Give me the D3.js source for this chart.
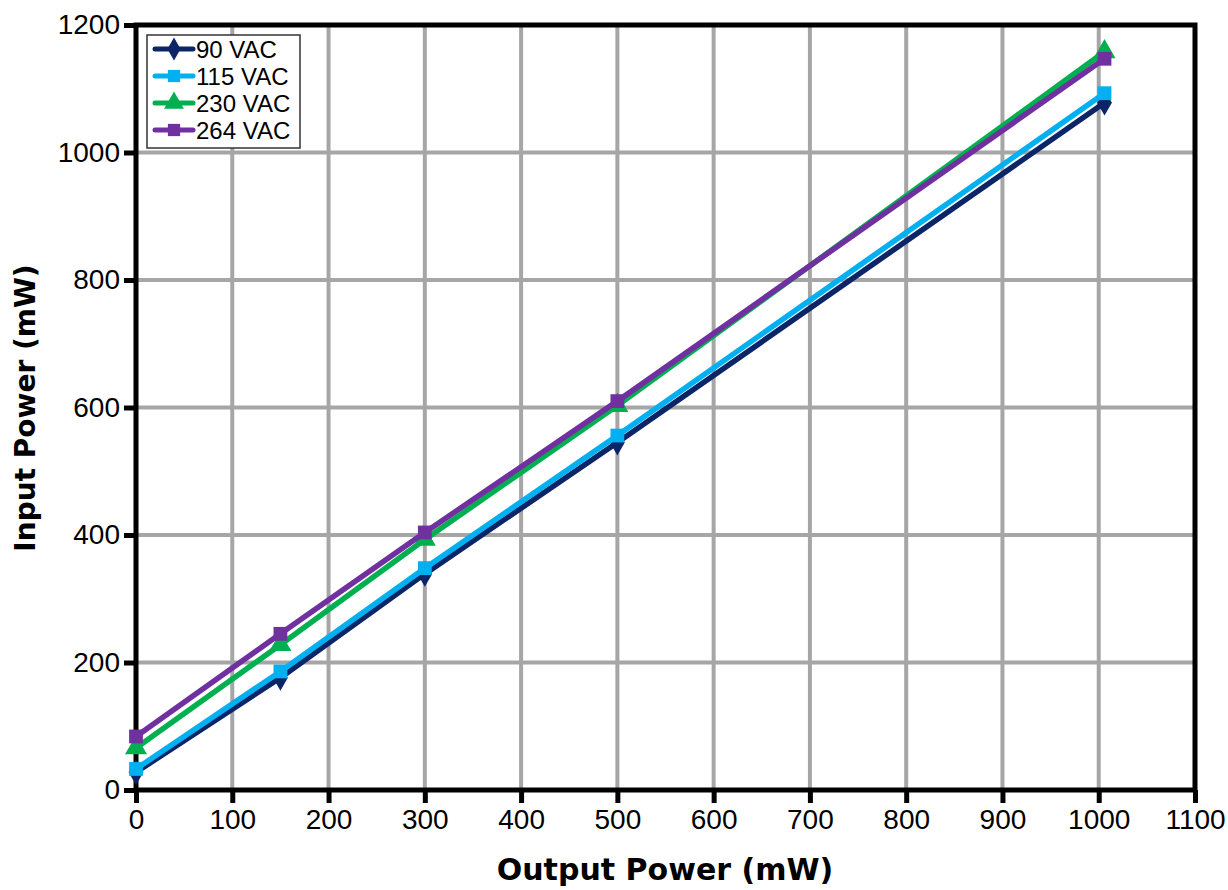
<!DOCTYPE html>
<html><head><meta charset="utf-8">
<script src="https://cdn.jsdelivr.net/npm/d3@7"></script>
<style>body{margin:0;background:#fff}svg{display:block}</style>
</head><body><svg id="c" width="1228" height="890"></svg>
<script>
const xValues = [0, 150, 300, 500, 1006];
const seriesNames = ["90 VAC", "115 VAC", "230 VAC", "264 VAC"];
const v90 = [28, 176, 339, 545, 1078];
const v115 = [33, 186, 348, 556, 1093];
const v230 = [66, 228, 393, 603, 1158];
const v264 = [84, 245, 404, 610, 1147];
const colors = ["#0c2566", "#00b0f0", "#00b050", "#7030a0"];
const symbols = [d3.symbolDiamond, d3.symbolSquare, d3.symbolTriangle, d3.symbolSquare];
const xTicks = [0,100,200,300,400,500,600,700,800,900,1000,1100];
const yTicks = [0,200,400,600,800,1000,1200];
const allSeries = [v90, v115, v230, v264];

const svg = d3.select("#c");
const L = 136, R = 1195, T = 25, B = 790;
const x = d3.scaleLinear().domain([0,1100]).range([L,R]);
const y = d3.scaleLinear().domain([0,1200]).range([B,T]);
const font = "'Liberation Sans', Arial, sans-serif";

// grid
svg.append("g").selectAll("line").data(xTicks.slice(1,-1)).join("line")
  .attr("x1", d=>x(d)).attr("x2", d=>x(d)).attr("y1", T).attr("y2", B)
  .attr("stroke", "#a6a6a6").attr("stroke-width", 4);
svg.append("g").selectAll("line").data(yTicks.slice(1,-1)).join("line")
  .attr("y1", d=>y(d)).attr("y2", d=>y(d)).attr("x1", L).attr("x2", R)
  .attr("stroke", "#a6a6a6").attr("stroke-width", 4);

// axes
const xAxis = svg.append("g").attr("transform", `translate(0,${B})`)
  .call(d3.axisBottom(x).tickValues(xTicks).tickSize(13).tickPadding(6).tickFormat(d3.format("d")));
const yAxis = svg.append("g").attr("transform", `translate(${L},0)`)
  .call(d3.axisLeft(y).tickValues(yTicks).tickSize(12).tickPadding(4).tickFormat(d3.format("d")));
[xAxis, yAxis].forEach(a => {
  a.select(".domain").remove();
  a.selectAll(".tick line").attr("stroke", "#000").attr("stroke-width", 5);
  a.selectAll(".tick text").attr("font-family", font).attr("font-size", 28).attr("fill", "#000");
});
// frame
svg.append("rect").attr("x", L).attr("y", T).attr("width", R-L).attr("height", B-T)
  .attr("fill", "none").attr("stroke", "#000").attr("stroke-width", 5);

// series
const line = d3.line().x((d,i)=>x(xValues[i])).y(d=>y(d));
allSeries.forEach((s, k) => {
  svg.append("path").datum(s).attr("d", line).attr("fill", "none")
    .attr("stroke", colors[k]).attr("stroke-width", 5.5).attr("stroke-linejoin", "round");
  svg.append("g").selectAll("path").data(s).join("path")
    .attr("transform", (d,i)=>`translate(${x(xValues[i])},${y(d)})`)
    .attr("d", d3.symbol().type(symbols[k]).size(k===2 ? 210 : 190))
    .attr("fill", colors[k]);
});

// legend
const lg = svg.append("g");
lg.append("rect").attr("x", 147).attr("y", 35).attr("width", 153).attr("height", 113)
  .attr("fill", "#fff").attr("stroke", "#333").attr("stroke-width", 1.5);
seriesNames.forEach((n, k) => {
  const yy = 49 + k*27;
  lg.append("line").attr("x1", 155).attr("x2", 193).attr("y1", yy).attr("y2", yy)
    .attr("stroke", colors[k]).attr("stroke-width", 5).attr("stroke-linecap", "round");
  lg.append("path").attr("transform", `translate(174,${yy})`)
    .attr("d", d3.symbol().type(symbols[k]).size(k===2?170:150)).attr("fill", colors[k]);
  lg.append("text").attr("x", 196).attr("y", yy+9).attr("font-family", font)
    .attr("font-size", 24).attr("fill", "#000").text(n);
});

// titles
svg.append("text").attr("x", 665).attr("y", 880).attr("text-anchor", "middle")
  .attr("font-family", "'DejaVu Sans', sans-serif").attr("font-weight", "bold").attr("font-size", 30)
  .text("Output Power (mW)");
svg.append("text").attr("transform", "translate(35,408) rotate(-90)").attr("text-anchor", "middle")
  .attr("font-family", "'DejaVu Sans', sans-serif").attr("font-weight", "bold").attr("font-size", 28)
  .text("Input Power (mW)");
</script></body></html>
